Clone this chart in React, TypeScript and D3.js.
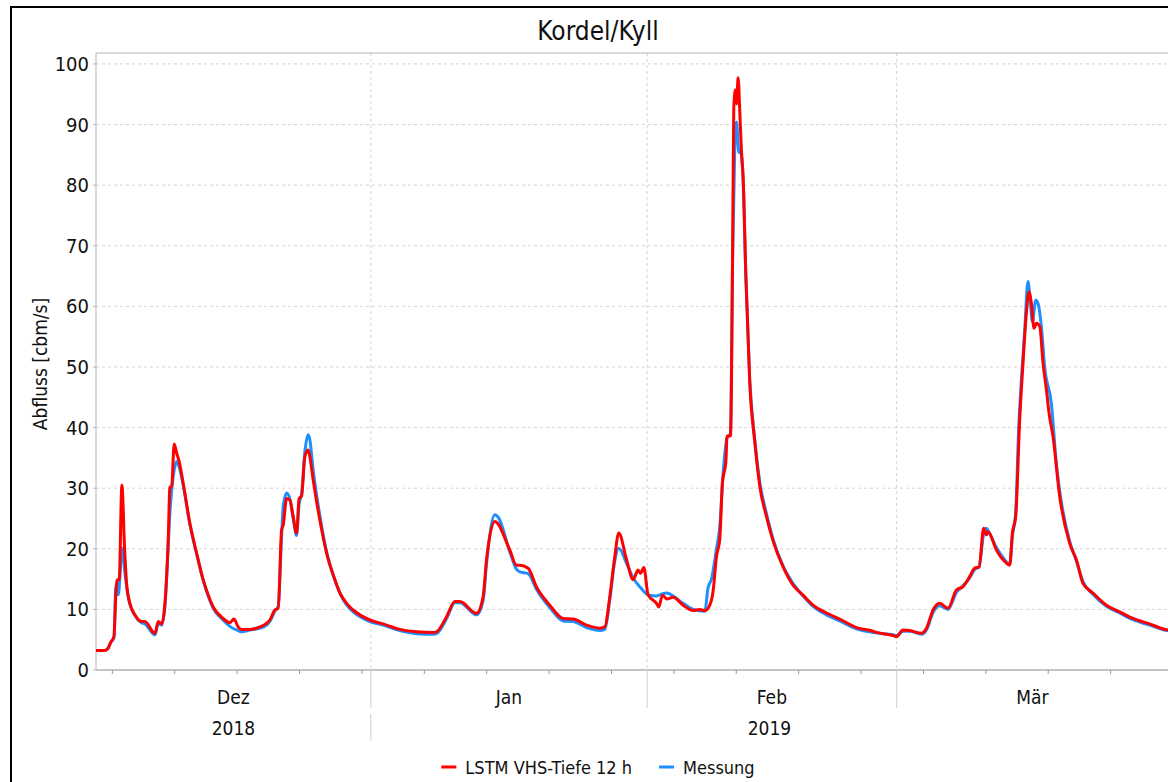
import React, { useRef, useEffect } from 'react';
import * as d3 from 'd3';

const titel = 'Kordel/Kyll';
const yTitel = 'Abfluss [cbm/s]';
const yTicks = [0, 10, 20, 30, 40, 50, 60, 70, 80, 90, 100];

const monate = [
  { name: 'Dez', start: Date.UTC(2018, 11, 1), ende: Date.UTC(2019, 0, 1) },
  { name: 'Jan', start: Date.UTC(2019, 0, 1), ende: Date.UTC(2019, 1, 1) },
  { name: 'Feb', start: Date.UTC(2019, 1, 1), ende: Date.UTC(2019, 2, 1) },
  { name: 'Mär', start: Date.UTC(2019, 2, 1), ende: Date.UTC(2019, 3, 1) },
];
const jahre = [
  { name: '2018', start: Date.UTC(2018, 11, 1), ende: Date.UTC(2019, 0, 1) },
  { name: '2019', start: Date.UTC(2019, 0, 1), ende: Date.UTC(2020, 0, 1) },
];

const serien = [
  { name: 'LSTM VHS-Tiefe 12 h', farbe: '#ff0000' },
  { name: 'Messung', farbe: '#1e8fff' },
];

// [Tage seit 01.12.2018 00:00, Abfluss in cbm/s]
const lstm: [number, number][] = [
  [0.16, 3.2], [1.16, 3.2], [1.53, 3.6], [1.8, 4.5], [2.18, 5.5], [2.4, 12.7], [2.55, 14.9], [2.77, 14.9],
  [3.07, 30.5], [3.38, 19.8], [3.6, 14.3], [3.97, 11.0], [4.53, 9.1], [5.28, 8.0], [5.65, 8.0], [6.78, 6.05],
  [7.15, 8.0], [7.53, 7.6], [7.9, 11.0], [8.27, 21.5], [8.46, 30.2], [8.65, 30.2], [8.94, 37.3], [9.21, 35.8],
  [9.5, 34.4], [9.95, 30.8], [10.7, 24.2], [11.45, 19.3], [12.19, 14.9], [12.75, 12.4], [13.31, 10.4], [14.44, 8.5], [15.19, 7.8],
  [15.64, 8.4], [16.12, 7.1], [16.5, 6.7], [17.43, 6.7], [18.55, 7.1], [19.3, 7.7], [19.67, 8.25], [20.23, 9.9],
  [20.61, 10.2], [20.99, 23.1], [21.17, 23.9], [21.55, 28.3], [21.92, 28.05], [22.29, 25.3], [22.67, 22.6], [22.96, 28.3],
  [23.23, 28.7], [23.6, 35.2], [23.97, 36.3], [24.16, 35.2], [24.53, 31.4], [25.28, 24.75], [26.04, 19.3], [26.97, 14.9],
  [27.53, 12.7], [27.9, 11.8], [28.65, 10.4], [29.02, 9.9], [30.89, 8.25], [32.38, 7.6], [34.26, 6.7], [36.13, 6.3],
  [37.99, 6.2], [38.37, 6.3], [39.5, 8.8], [40.43, 11.3], [40.99, 11.3], [42.86, 9.35], [43.6, 12.1], [43.98, 18.2],
  [44.91, 24.5], [46.59, 19.8], [47.35, 17.3], [47.72, 17.3], [48.65, 16.8], [49.59, 13.7], [51.08, 10.7], [52.58, 8.5],
  [53.7, 8.4], [55.2, 7.4], [56.69, 6.9], [57.25, 7.1], [57.81, 12.1], [58.37, 18.7], [58.82, 22.6], [59.69, 18.2],
  [60.43, 14.9], [60.99, 16.5], [61.26, 15.95], [61.63, 16.9], [62.11, 12.4], [63.05, 11.0], [63.31, 10.4], [63.72, 12.35],
  [64.24, 11.7], [64.91, 12.0], [66.04, 10.7], [67.16, 9.8], [67.91, 10.0], [68.47, 9.8], [69.03, 10.7], [69.4, 13.0],
  [69.78, 18.7], [70.15, 21.6], [70.45, 30.9], [70.83, 34.3], [70.97, 38.6], [71.35, 38.6], [71.58, 66.8], [71.72, 92.7],
  [71.91, 95.7], [72.03, 93.4], [72.21, 97.7], [72.4, 92.0], [72.59, 85.4], [72.77, 81.4], [73.07, 65.5], [73.51, 47.5],
  [74.08, 37.6], [74.64, 30.3], [75.39, 25.3], [76.13, 21.3], [77.25, 17.0], [78.37, 14.0], [79.5, 12.35], [80.62, 10.7],
  [82.12, 9.4], [83.61, 8.4], [85.49, 7.0], [87.35, 6.4], [87.73, 6.2], [89.59, 5.7], [89.97, 5.5], [90.71, 6.6],
  [91.46, 6.5], [92.78, 6.05], [93.34, 6.9], [94.08, 9.9], [94.83, 11.0], [95.76, 10.2], [96.7, 13.2], [97.44, 13.75],
  [98.19, 15.4], [98.75, 16.8], [99.24, 17.0], [99.76, 23.4], [100.07, 22.3], [100.25, 22.8], [101.19, 19.8], [102.12, 17.9],
  [102.68, 17.3], [102.98, 22.6], [103.35, 25.3], [103.8, 41.25], [104.17, 50.6], [104.55, 58.9], [104.84, 62.4], [105.11, 60.5],
  [105.41, 56.4], [105.68, 57.2], [106.05, 56.7], [106.42, 50.6], [106.8, 46.2], [107.09, 42.4], [107.54, 38.5], [108.29, 28.6],
  [109.41, 20.9], [110.16, 18.2], [110.9, 14.3], [112.02, 12.7], [113.53, 10.7], [115.02, 9.6], [116.51, 8.5], [118.38, 7.6],
  [120.4, 6.6], [121.19, 6.5],
];

const messung: [number, number][] = [
  [0.16, 3.2], [1.16, 3.2], [1.53, 3.6], [1.8, 4.5], [2.18, 5.3], [2.4, 13.7], [2.66, 12.4], [3.11, 20.1],
  [3.41, 16.0], [3.77, 12.1], [4.53, 9.0], [5.28, 7.8], [5.65, 7.6], [6.78, 5.8], [7.15, 7.6], [7.53, 7.4],
  [7.9, 10.5], [8.27, 20.5], [8.46, 26.0], [8.65, 29.5], [8.94, 33.0], [9.21, 34.4], [9.5, 33.5], [9.95, 30.5],
  [10.7, 24.0], [11.45, 19.2], [12.19, 14.8], [12.75, 12.2], [13.31, 10.2], [14.44, 8.2], [15.19, 7.2], [15.64, 6.8], [16.12, 6.5],
  [16.5, 6.3], [17.43, 6.6], [18.55, 6.9], [19.3, 7.4], [19.67, 8.0], [20.23, 9.7], [20.61, 10.5], [20.99, 22.0],
  [21.17, 27.0], [21.55, 29.2], [21.92, 28.2], [22.29, 25.0], [22.67, 22.2], [22.96, 27.5], [23.23, 29.0], [23.6, 36.0],
  [23.97, 38.8], [24.16, 38.0], [24.53, 33.0], [25.28, 25.5], [26.04, 19.5], [26.97, 14.8], [27.9, 11.6], [28.65, 10.1],
  [29.02, 9.6], [30.89, 8.0], [32.38, 7.4], [34.26, 6.5], [36.13, 6.0], [37.99, 5.9], [38.37, 6.0], [39.5, 8.5],
  [40.43, 11.1], [40.99, 11.1], [42.86, 9.1], [43.6, 11.5], [43.98, 17.5], [44.91, 25.6], [45.3, 25.2], [46.59, 19.5],
  [47.35, 16.6], [47.72, 16.2], [48.65, 15.9], [49.59, 13.3], [51.08, 10.3], [52.58, 8.1], [53.7, 8.0], [55.2, 7.0],
  [56.69, 6.5], [57.25, 6.7], [57.81, 11.5], [58.37, 18.0], [58.82, 20.1], [59.69, 17.6], [60.43, 15.2], [61.26, 13.6],
  [62.11, 12.4], [63.05, 12.2], [63.72, 12.6], [64.24, 12.7], [64.91, 12.2], [66.04, 11.0], [67.16, 10.0], [68.47, 9.7],
  [68.84, 13.6], [69.22, 15.0], [69.78, 20.0], [70.15, 23.6], [70.52, 32.3], [70.97, 38.3], [71.35, 39.0], [71.58, 66.8],
  [71.84, 86.7], [72.03, 90.4], [72.29, 85.4], [72.51, 85.4], [72.77, 80.7], [73.07, 65.0], [73.51, 48.0], [74.08, 38.0],
  [74.64, 31.0], [75.39, 25.8], [76.13, 21.6], [77.25, 17.2], [78.37, 14.3], [79.5, 12.2], [80.62, 10.5], [82.12, 9.1],
  [83.61, 8.1], [85.49, 6.8], [87.35, 6.2], [89.59, 5.8], [89.97, 5.7], [90.71, 6.4], [91.46, 6.4], [92.78, 5.9],
  [93.34, 6.6], [94.08, 9.5], [94.83, 10.6], [95.76, 10.0], [96.7, 12.8], [97.44, 13.9], [98.19, 15.2], [98.75, 16.6],
  [99.24, 17.0], [99.76, 22.5], [100.07, 23.4], [100.25, 23.0], [101.19, 20.2], [102.12, 18.2], [102.68, 17.4], [102.98, 22.0],
  [103.35, 26.0], [103.69, 40.0], [103.99, 47.9], [104.36, 56.0], [104.73, 64.1], [105.0, 60.5], [105.22, 57.5], [105.6, 61.0],
  [105.85, 60.5], [106.23, 56.7], [106.6, 50.0], [107.35, 44.0], [107.91, 34.1], [108.29, 29.5], [109.41, 21.2], [110.16, 18.0],
  [110.9, 14.6], [112.02, 12.5], [113.53, 10.5], [115.02, 9.4], [116.51, 8.3], [118.38, 7.4], [120.4, 6.5], [121.19, 6.4],
];

const FONT = "'Liberation Sans Narrow', 'DejaVu Sans Condensed', Lato, sans-serif";
const t0 = Date.UTC(2018, 11, 1);
const zuDatum = (tage: number) => new Date(t0 + tage * 864e5);

export default function App() {
  const svgRef = useRef<SVGSVGElement>(null);

  useEffect(() => {
    if (!svgRef.current) return;
    const width = 1168;
    const height = 782;
    const links = 96, oben = 53, unten = 670, rechts = 1173;

    const svg = d3.select(svgRef.current);
    svg.selectAll('*').remove();

    svg.append('rect').attr('width', width).attr('height', height).attr('fill', '#fff');
    // outer frame, cut off at the right and bottom
    svg.append('rect')
      .attr('x', 11).attr('y', 7).attr('width', 1200).attr('height', 800)
      .attr('fill', 'none').attr('stroke', '#000').attr('stroke-width', 2);

    const x = d3.scaleUtc()
      .domain([new Date(Date.UTC(2018, 11, 1, 4)), new Date(Date.UTC(2019, 3, 1))])
      .range([links, rechts]);
    const y = d3.scaleLinear().domain([0, 101.8]).range([unten, oben]);

    svg.append('text')
      .attr('x', 598).attr('y', 40)
      .attr('text-anchor', 'middle')
      .style('font-family', FONT).style('font-size', '26px').attr('fill', '#111')
      .text(titel);

    // grid
    svg.append('g').selectAll('line').data(yTicks.filter(d => d > 0)).enter().append('line')
      .attr('x1', links).attr('x2', rechts)
      .attr('y1', d => y(d)).attr('y2', d => y(d))
      .attr('stroke', '#d4d4d4').attr('stroke-dasharray', '3,3');
    const grenzen = monate.slice(1).map(m => new Date(m.start));
    svg.append('g').selectAll('line').data(grenzen).enter().append('line')
      .attr('x1', d => x(d)).attr('x2', d => x(d))
      .attr('y1', oben).attr('y2', unten)
      .attr('stroke', '#d4d4d4').attr('stroke-dasharray', '3,3');

    // frame of plot
    svg.append('line').attr('x1', links).attr('x2', links).attr('y1', oben).attr('y2', unten)
      .attr('stroke', '#b5b5b5');
    svg.append('line').attr('x1', links).attr('x2', rechts).attr('y1', oben).attr('y2', oben)
      .attr('stroke', '#b5b5b5');
    svg.append('line').attr('x1', links).attr('x2', rechts).attr('y1', unten).attr('y2', unten)
      .attr('stroke', '#b0b0b0').attr('stroke-width', 1.5);

    // y ticks + labels
    const yAchse = svg.append('g');
    yTicks.forEach(v => {
      yAchse.append('line').attr('x1', links - 3).attr('x2', links).attr('y1', y(v)).attr('y2', y(v))
        .attr('stroke', '#b5b5b5');
      yAchse.append('text')
        .attr('x', links - 7).attr('y', y(v))
        .attr('text-anchor', 'end').attr('dominant-baseline', 'central')
        .style('font-family', FONT).style('font-size', '20px').attr('fill', '#111')
        .text(v);
    });

    svg.append('text')
      .attr('transform', `translate(40, 364) rotate(-90)`)
      .attr('text-anchor', 'middle').attr('dominant-baseline', 'central')
      .style('font-family', FONT).style('font-size', '19px').attr('fill', '#111')
      .text(yTitel);

    // weekly ticks (Mondays)
    const montage = d3.utcMonday.range(x.domain()[0], x.domain()[1]);
    svg.append('g').selectAll('line').data(montage).enter().append('line')
      .attr('x1', d => x(d)).attr('x2', d => x(d))
      .attr('y1', unten).attr('y2', unten + 4)
      .attr('stroke', '#999');

    // month band
    monate.forEach((m, i) => {
      const a = Math.max(x(new Date(m.start)), links);
      const b = Math.min(x(new Date(m.ende)), width);
      svg.append('text')
        .attr('x', (a + b) / 2).attr('y', 697)
        .attr('text-anchor', 'middle').attr('dominant-baseline', 'central')
        .style('font-family', FONT).style('font-size', '19px').attr('fill', '#111')
        .text(m.name);
      if (i > 0) {
        svg.append('line').attr('x1', a).attr('x2', a).attr('y1', unten).attr('y2', 708)
          .attr('stroke', '#cfcfcf');
      }
    });
    jahre.forEach((j, i) => {
      const a = Math.max(x(new Date(j.start)), links);
      const b = Math.min(x(new Date(j.ende)), width);
      svg.append('text')
        .attr('x', (a + b) / 2).attr('y', 728)
        .attr('text-anchor', 'middle').attr('dominant-baseline', 'central')
        .style('font-family', FONT).style('font-size', '19px').attr('fill', '#111')
        .text(j.name);
      if (i > 0) {
        svg.append('line').attr('x1', a).attr('x2', a).attr('y1', 714).attr('y2', 741)
          .attr('stroke', '#cfcfcf');
      }
    });

    // series
    svg.append('defs').append('clipPath').attr('id', 'plotclip')
      .append('rect').attr('x', links).attr('y', oben).attr('width', rechts - links).attr('height', unten - oben);
    const linie = d3.line<[number, number]>()
      .x(d => x(zuDatum(d[0])))
      .y(d => y(d[1]))
      .curve(d3.curveMonotoneX);
    const plot = svg.append('g').attr('clip-path', 'url(#plotclip)');
    plot.append('path').datum(messung)
      .attr('d', linie).attr('fill', 'none')
      .attr('stroke', serien[1].farbe).attr('stroke-width', 3).attr('stroke-linejoin', 'round');
    plot.append('path').datum(lstm)
      .attr('d', linie).attr('fill', 'none')
      .attr('stroke', serien[0].farbe).attr('stroke-width', 3).attr('stroke-linejoin', 'round');

    // legend, centred under the title
    const legende = svg.append('g');
    let cx = 0;
    serien.forEach((s, i) => {
      const g = legende.append('g').attr('transform', `translate(${cx},0)`);
      g.append('line').attr('x1', 0).attr('x2', 15).attr('y1', 0).attr('y2', 0)
        .attr('stroke', s.farbe).attr('stroke-width', 3);
      const t = g.append('text').attr('x', 24).attr('y', 0)
        .attr('dominant-baseline', 'central')
        .style('font-family', FONT).style('font-size', '18px').attr('fill', '#111')
        .text(s.name);
      const w = (t.node() as SVGTextElement).getComputedTextLength();
      cx += 24 + w + (i < serien.length - 1 ? 27 : 0);
    });
    legende.attr('transform', `translate(${598 - cx / 2}, 767)`);
  }, []);

  return (
    <svg
      ref={svgRef}
      width={1168}
      height={782}
      style={{ position: 'absolute', left: 0, top: 0, display: 'block' }}
    />
  );
}
